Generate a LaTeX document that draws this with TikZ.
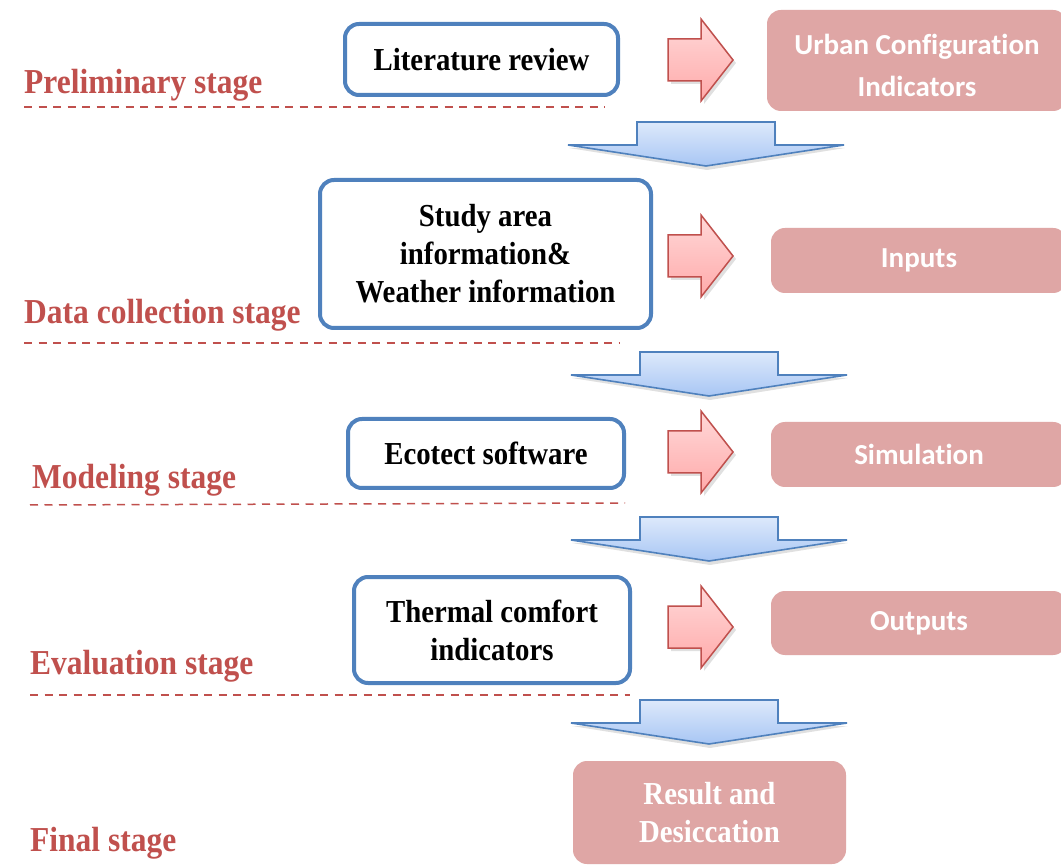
\documentclass[tikz,border=0pt]{standalone}
\usepackage{fontspec}
\setmainfont{Liberation Serif}
\newfontfamily\calfont[Ligatures=NoCommon]{Carlito}
\newfontfamily\condserif[FakeStretch=0.9]{Liberation Serif}
\definecolor{bborder}{HTML}{4F81BD}
\definecolor{stagered}{HTML}{C0504D}
\definecolor{pinkbox}{HTML}{DFA6A5}
\definecolor{arrtop}{HTML}{DDE9FB}
\definecolor{arrbot}{HTML}{A8C6F4}
\definecolor{rtop}{HTML}{FFD8D8}
\definecolor{rbot}{HTML}{FFAAAA}
\tikzset{
  bluebox/.style={draw=bborder, line width=4pt, rounded corners=14pt, fill=white,
    align=center, inner sep=0pt, font=\condserif\fontsize{32}{38}\selectfont\bfseries},
  pinkrbox/.style={fill=pinkbox, rounded corners=14pt, align=center, inner sep=0pt,
    text=white, font=\calfont\fontsize{29}{42}\selectfont\bfseries},
  resbox/.style={fill=pinkbox, rounded corners=14pt, align=center, inner sep=0pt,
    text=white, font=\condserif\fontsize{32}{38}\selectfont\bfseries},
  stagelabel/.style={text=stagered, anchor=west, inner sep=0pt,
    font=\condserif\fontsize{35}{40}\selectfont\bfseries},
  stageline/.style={draw=stagered, line width=1.5pt, dash pattern=on 8pt off 6.5pt},
  downarr/.style={draw=bborder, line width=1.6pt, top color=arrtop, bottom color=arrbot,
    line join=miter},
  rightarr/.style={draw=stagered, line width=1.5pt, top color=rtop, bottom color=rbot,
    line join=miter},
  shadowpath/.style={fill=black, opacity=0.12},
}
\begin{document}
\begin{tikzpicture}[x=1pt,y=-1pt]
\useasboundingbox (0,0) rectangle (1061,866);
\fill[white] (0,0) rectangle (1061,866);

% stage labels
\node[stagelabel] (s1) at (24,85.5) {Preliminary stage};
\node[stagelabel] (s2) at (24,315.5) {Data collection stage};
\node[stagelabel] (s3) at (32,480.5) {Modeling stage};
\node[stagelabel] (s4) at (30,666.5) {Evaluation stage};
\node[stagelabel] (s5) at (30,843.5) {Final stage};

% dashed lines
\coordinate (d1a) at (24,107); \coordinate (d1b) at (605,107);
\coordinate (d2a) at (24,343); \coordinate (d2b) at (620,343);
\coordinate (d3a) at (30,505); \coordinate (d3b) at (625,503);
\coordinate (d4a) at (30,695); \coordinate (d4b) at (630,695);
\draw[stageline] (d1a) -- (d1b);
\draw[stageline] (d2a) -- (d2b);
\draw[stageline] (d3a) -- (d3b);
\draw[stageline] (d4a) -- (d4b);

% blue boxes
\node[bluebox, minimum width=273pt, minimum height=71pt] (lit) at (481.5,59.5) {Literature review};
\node[bluebox, minimum width=331pt, minimum height=148pt] (study) at (485.5,254)
  {Study area\\information\&\\Weather information};
\node[bluebox, minimum width=276pt, minimum height=69pt] (eco) at (486,453.5) {Ecotect software};
\node[bluebox, minimum width=276pt, minimum height=106pt] (therm) at (492,630)
  {Thermal comfort\\indicators};

% right pink boxes
\node[pinkrbox, minimum width=300pt, minimum height=101pt] (urban) at (917,60.5) {};
\node[text=white, font=\calfont\fontsize{29}{42}\selectfont\bfseries, align=center, inner sep=0pt]
  (urbantxt) at (917,65) {Urban Configuration\\Indicators};
\node[pinkrbox, minimum width=296pt, minimum height=65pt] (inputs) at (919,260.5) {Inputs};
\node[pinkrbox, minimum width=296pt, minimum height=65pt] (sim) at (919,454.5) {Simulation};
\node[pinkrbox, minimum width=296pt, minimum height=64pt] (outs) at (919,623) {Outputs};

% result
\node[resbox, minimum width=273pt, minimum height=103pt] (res) at (709.5,812.5)
  {Result and\\Desiccation};

% red right arrows
\foreach \cy [count=\i] in {60,256,452,627}{
  \begin{scope}[shift={(668,\cy)}]
    \fill[shadowpath] (3,-18) -- (36,-18) -- (36,-38) -- (68,3) -- (36,44) -- (36,24) -- (3,24) -- cycle;
    \path[rightarr] (0,-21) -- (33,-21) -- (33,-41) -- (65,0) -- (33,41) -- (33,21) -- (0,21) -- cycle;
  \end{scope}
}

% blue down arrows
\foreach \cx/\ty in {706/122,709/352,709/517,709/700}{
  \begin{scope}[shift={(\cx,\ty)}]
    \fill[shadowpath] (-68,3) -- (70,3) -- (70,26) -- (139,26) -- (1,48) -- (-137,26) -- (-68,26) -- cycle;
    \path[downarr] (-69,0) -- (69,0) -- (69,23) -- (138,23) -- (0,44) -- (-138,23) -- (-69,23) -- cycle;
  \end{scope}
}
\end{tikzpicture}
\end{document}
